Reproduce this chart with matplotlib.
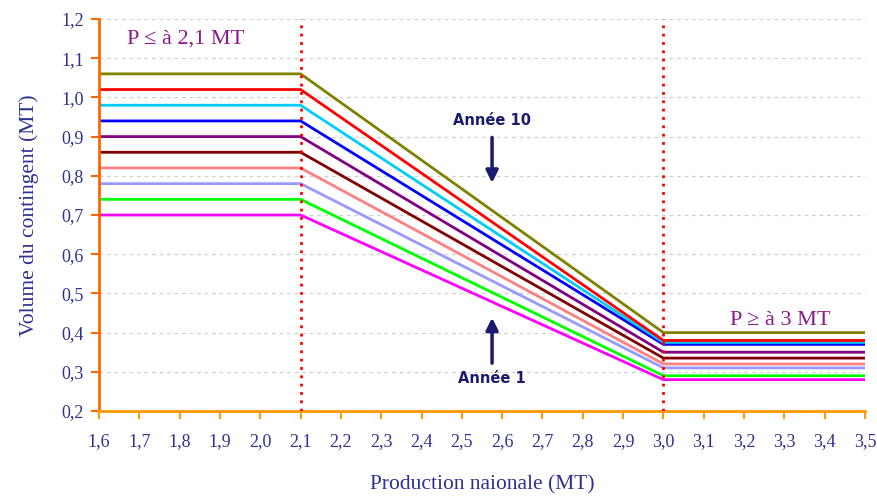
import matplotlib.pyplot as plt

# x points where the lines change slope
x_points = [1.6, 2.1, 3.0, 3.5]

# volume at P <= 2,1 MT and at P >= 3 MT, year 1 to year 10
low_values = [0.70, 0.74, 0.78, 0.82, 0.86, 0.90, 0.94, 0.98, 1.02, 1.06]
high_values = [0.28, 0.29, 0.31, 0.32, 0.335, 0.35, 0.37, 0.375, 0.38, 0.40]
colors = ["#FF00FF", "#00FF00", "#9999FF", "#FF8080", "#800000",
          "#800080", "#0000FF", "#00CCFF", "#FF0000", "#808000"]

x_ticks = [1.6 + 0.1 * i for i in range(20)]
y_ticks = [0.2 + 0.1 * i for i in range(11)]

navy = "#2E3192"
serif = "Liberation Serif"

fig = plt.figure(figsize=(8.77, 4.97), dpi=100)
ax = fig.add_axes([0.1129, 0.173, 0.8734, 0.7888])

# horizontal dashed grid
for y in y_ticks[1:]:
    ax.axhline(y, color="#D0D0D0", linestyle=(0, (3, 3)), linewidth=0.9, zorder=0)

# one line per year
for lo, hi, c in zip(low_values, high_values, colors):
    ax.plot(x_points, [lo, lo, hi, hi], color=c, linewidth=2, zorder=2)

# thresholds
for x in [2.1, 3.0]:
    ax.axvline(x, color="#FF0000", linestyle=(0, (1, 2)), linewidth=2, zorder=3)

ax.set_xlim(1.6, 3.5)
ax.set_ylim(0.2, 1.2)
ax.set_xticks(x_ticks)
ax.set_xticklabels([f"{v:.1f}".replace(".", ",") for v in x_ticks],
                   fontsize=13, color=navy, family=serif)
ax.set_yticks(y_ticks)
ax.set_yticklabels([f"{v:.1f}".replace(".", ",") for v in y_ticks],
                   fontsize=13, color=navy, family=serif)
ax.tick_params(axis="x", direction="out", length=6, width=1.5, color="#FF9900", pad=10)
ax.tick_params(axis="y", direction="out", length=6, width=1.5, color="#FF6600", pad=5)

ax.spines["top"].set_visible(False)
ax.spines["right"].set_visible(False)
ax.spines["left"].set_color("#FF6600")
ax.spines["left"].set_linewidth(2)
ax.spines["bottom"].set_color("#FF9900")
ax.spines["bottom"].set_linewidth(2)

ax.set_xlabel("Production naionale (MT)", fontsize=15.5, color=navy, family=serif, labelpad=18)
ax.set_ylabel("Volume du contingent (MT)", fontsize=15.5, color=navy, family=serif, labelpad=16)

# zone labels
ax.text(1.67, 1.15, "P ≤ à 2,1 MT", fontsize=16, color="#8B1A8B", family=serif,
        va="center", ha="left")
ax.text(3.29, 0.43, "P ≥ à 3 MT", fontsize=16, color="#8B1A8B", family=serif,
        va="center", ha="center")

# year arrows
ax.annotate("", xy=(2.575, 0.775), xytext=(2.575, 0.905),
            arrowprops=dict(arrowstyle="-|>", color="#1A1A6E", lw=2.5, mutation_scale=18))
ax.text(2.575, 0.94, "Année 10", fontsize=10.5, fontweight="bold", color="#1A1A6E",
        ha="center", va="center")
ax.annotate("", xy=(2.575, 0.445), xytext=(2.575, 0.315),
            arrowprops=dict(arrowstyle="-|>", color="#1A1A6E", lw=2.5, mutation_scale=18))
ax.text(2.575, 0.284, "Année 1", fontsize=10.5, fontweight="bold", color="#1A1A6E",
        ha="center", va="center")

fig.savefig("out.png", dpi=100)
